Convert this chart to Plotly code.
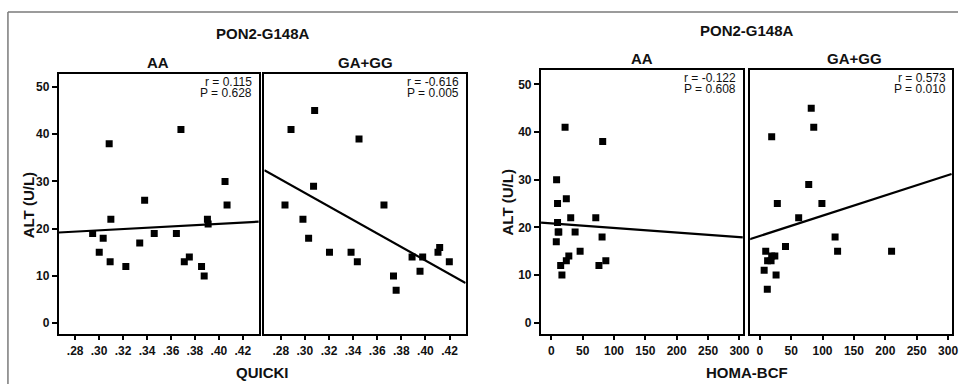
import plotly.graph_objects as go

W, H = 965, 384

# ---------------- data ----------------
# Left figure: QUICKI vs ALT
quicki_aa_x = [0.2946, 0.3034, 0.3001, 0.3084, 0.3098, 0.3092, 0.3223, 0.3339, 0.3380, 0.3460,
               0.3645, 0.3683, 0.3711, 0.3753, 0.3855, 0.3877, 0.3904, 0.3910, 0.4051, 0.4068]
quicki_aa_y = [19, 18, 15, 38, 22, 13, 12, 17, 26, 19,
               19, 41, 13, 14, 12, 10, 22, 21, 30, 25]

quicki_gg_x = [0.2835, 0.2885, 0.2984, 0.3031, 0.3081, 0.3072, 0.3204, 0.3383, 0.3435, 0.3449,
               0.3656, 0.3735, 0.3757, 0.3889, 0.3977, 0.3955, 0.4104, 0.4118, 0.4198]
quicki_gg_y = [25, 41, 22, 18, 45, 29, 15, 15, 13, 39,
               25, 10, 7, 14, 14, 11, 15, 16, 13]

# Right figure: HOMA-BCF vs ALT
homa_aa_x = [8.5, 22, 82, 10, 24, 10, 31, 71, 11, 38, 81, 8, 46, 28, 24, 15, 76, 87, 17, 12]
homa_aa_y = [30, 41, 38, 25, 26, 21, 22, 22, 19, 19, 18, 17, 15, 14, 13, 12, 12, 13, 10, 19]

homa_gg_x = [82, 86, 19, 78, 28, 99, 62, 120, 41, 124, 210, 9.5, 12.5, 18, 19, 24, 7, 26, 12]
homa_gg_y = [45, 41, 39, 29, 25, 25, 22, 18, 16, 15, 15, 15, 13, 13, 14, 14, 11, 10, 7]

# Fit lines (endpoints)
fit_quicki_x = [0.2664, 0.4333]
fit_quicki_aa_y = [19.2, 21.5]
fit_quicki_gg_y = [32.4, 8.5]
fit_homa_x = [-16.3, 305.5]
fit_homa_aa_y = [21.0, 17.9]
fit_homa_gg_y = [17.5, 31.2]

stats_text = [("r = 0.115", "P = 0.628"), ("r = -0.616", "P = 0.005"),
              ("r = -0.122", "P = 0.608"), ("r = 0.573", "P = 0.010")]

quicki_ticks = [0.28, 0.30, 0.32, 0.34, 0.36, 0.38, 0.40, 0.42]
quicki_ticktext = [".28", ".30", ".32", ".34", ".36", ".38", ".40", ".42"]
homa_ticks = [0, 50, 100, 150, 200, 250, 300]
alt_ticks = [0, 10, 20, 30, 40, 50]

FONT = "Arial, Liberation Sans, sans-serif"


def xp(px):
    return px / W


def yp(py):
    return 1 - py / H


# panel pixel boxes: (left, right, top, bottom)
panels = [(59.3, 260.7, 74, 334.3), (266.3, 469.0, 74, 334.3),
          (545.0, 748.3, 70, 334.3), (755.7, 959.0, 70, 334.3)]

fig = go.Figure()

series = [(quicki_aa_x, quicki_aa_y, fit_quicki_x, fit_quicki_aa_y),
          (quicki_gg_x, quicki_gg_y, fit_quicki_x, fit_quicki_gg_y),
          (homa_aa_x, homa_aa_y, fit_homa_x, fit_homa_aa_y),
          (homa_gg_x, homa_gg_y, fit_homa_x, fit_homa_gg_y)]

for i, (sx, sy, fx, fy) in enumerate(series):
    xa = "x" if i == 0 else f"x{i+1}"
    ya = "y" if i == 0 else f"y{i+1}"
    fig.add_trace(go.Scatter(x=fx, y=fy, mode="lines", xaxis=xa, yaxis=ya,
                             line=dict(color="black", width=2.2), showlegend=False,
                             hoverinfo="skip"))
    fig.add_trace(go.Scatter(x=sx, y=sy, mode="markers", xaxis=xa, yaxis=ya,
                             marker=dict(symbol="square", size=7, color="black",
                                         line=dict(width=0)),
                             showlegend=False))

layout = dict(width=W, height=H, margin=dict(l=0, r=0, t=0, b=0),
              paper_bgcolor="white", plot_bgcolor="white",
              font=dict(family=FONT, color="black"))

xranges = [[0.2664, 0.4333], [0.2664, 0.4333], [-16.3, 305.5], [-15.2, 306.3]]
yranges = [[-2.35, 52.75], [-2.35, 52.75], [-2.43, 53.0], [-2.43, 53.0]]

for i, (l, r, t, b) in enumerate(panels):
    xk = "xaxis" if i == 0 else f"xaxis{i+1}"
    yk = "yaxis" if i == 0 else f"yaxis{i+1}"
    xname = "x" if i == 0 else f"x{i+1}"
    yname = "y" if i == 0 else f"y{i+1}"
    if i < 2:
        tv, tt = quicki_ticks, quicki_ticktext
    else:
        tv, tt = homa_ticks, [str(v) for v in homa_ticks]
    layout[xk] = dict(domain=[xp(l), xp(r)], anchor=yname, range=xranges[i],
                      showgrid=False, zeroline=False, showline=True, mirror=True,
                      linecolor="black", linewidth=2.2,
                      ticks="outside", ticklen=4, tickwidth=1.5, tickcolor="black",
                      tickvals=tv, ticktext=tt,
                      tickfont=dict(size=12, family=FONT, weight="bold", color="#111"))
    showy = i in (0, 2)
    layout[yk] = dict(domain=[yp(b), yp(t)], anchor=xname, range=yranges[i],
                      showgrid=False, zeroline=False, showline=True, mirror=True,
                      linecolor="black", linewidth=2.2,
                      ticks="outside" if showy else "", ticklen=5, tickwidth=1.5,
                      tickcolor="black", tickvals=alt_ticks,
                      showticklabels=showy,
                      tickfont=dict(size=12, family=FONT, weight="bold", color="#111"))

fig.update_layout(**layout)

ann = []


def add_text(txt, x, y, size, bold=True, xanchor="center", yanchor="middle", angle=0):
    ann.append(dict(text=txt, x=xp(x), y=yp(y), xref="paper", yref="paper",
                    showarrow=False, xanchor=xanchor, yanchor=yanchor, textangle=angle,
                    font=dict(size=size, family=FONT, color="#111",
                              weight="bold" if bold else "normal")))


# figure titles
add_text("PON2-G148A", 264.5, 34, 15)
add_text("PON2-G148A", 752.3, 30, 15)
# panel titles
add_text("AA", 159, 62, 15)
add_text("GA+GG", 368, 62, 15)
add_text("AA", 646.7, 58.3, 15)
add_text("GA+GG", 860.3, 58.3, 15)
# axis titles
add_text("QUICKI", 264.7, 372.7, 15)
add_text("HOMA-BCF", 752.3, 372.2, 15)
add_text("ALT (U/L)", 28.5, 205, 15, angle=-90)
add_text("ALT (U/L)", 511.7, 202.5, 15, angle=-90)

# r / P texts
for i, (l, r, t, b) in enumerate(panels):
    rt, pt = stats_text[i]
    add_text(rt, r - 4.5, t + 7.8, 12, bold=False, xanchor="right")
    add_text(pt, r - 4.5, t + 19.0, 12, bold=False, xanchor="right")

fig.update_layout(annotations=ann)

# outer frame (gray lines at top and left)
fig.update_layout(shapes=[
    dict(type="line", xref="paper", yref="paper", x0=xp(8), x1=1.0, y0=yp(12), y1=yp(12),
         line=dict(color="#7a7a7a", width=1.5)),
    dict(type="line", xref="paper", yref="paper", x0=xp(8), x1=xp(8), y0=yp(12), y1=0,
         line=dict(color="#7a7a7a", width=1.5)),
])

fig.write_html("out.html",
               config={"displayModeBar": False},
               post_script="document.body.style.margin='0';document.body.style.padding='0';"
                           "document.body.style.overflow='hidden';")
